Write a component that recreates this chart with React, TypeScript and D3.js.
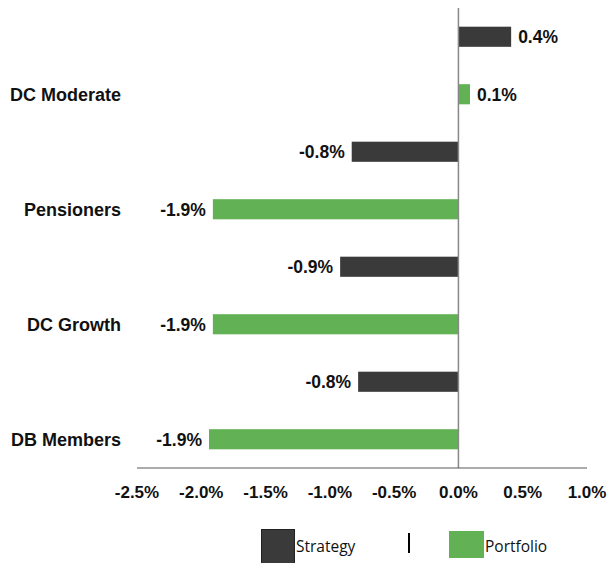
import React from 'react'
import * as d3 from 'd3'

// values (percent)
const categories = ['DC Moderate', 'Pensioners', 'DC Growth', 'DB Members']
const strategyValues = [0.41, -0.83, -0.92, -0.78]
const portfolioValues = [0.09, -1.91, -1.91, -1.94]
const tickValues = [-2.5, -2.0, -1.5, -1.0, -0.5, 0.0, 0.5, 1.0]
const seriesNames = ['Strategy', 'Portfolio']
const seriesColors = ['#3a3a3a', '#62b255']

const width = 611
const height = 563
const marginLeft = 137
const marginRight = 24
const marginTop = 8
const plotBottom = 468

export default function App() {
    const x = d3.scaleLinear()
        .domain([-2.5, 1.0])
        .range([marginLeft, width - marginRight])

    // each category gets two rows: strategy above, portfolio below
    const rows = categories.flatMap(c => [c + '|s', c + '|p'])
    const y = d3.scaleBand()
        .domain(rows)
        .range([marginTop, plotBottom])
        .paddingInner(0.65)
        .paddingOuter(0.325)

    const bars = categories.flatMap((c, i) => [
        { key: c + '|s', value: strategyValues[i], color: seriesColors[0] },
        { key: c + '|p', value: portfolioValues[i], color: seriesColors[1] },
    ])

    // plain hyphen minus like the original, not the unicode one
    const fmt = (v: number) => d3.format('.1f')(v).replace('\u2212', '-') + '%'
    const font = "Arial, 'Liberation Sans', sans-serif"

    return (
        <svg width={width} height={height} style={{ position: 'absolute', left: 0, top: 0, background: '#fff' }}>
            {bars.map(b => {
                const x0 = x(Math.min(0, b.value))
                const x1 = x(Math.max(0, b.value))
                const yc = (y(b.key) as number) + y.bandwidth() / 2
                return (
                    <g key={b.key}>
                        <rect x={x0} y={y(b.key)} width={x1 - x0} height={y.bandwidth()} fill={b.color} />
                        <text
                            x={b.value >= 0 ? x1 + 7 : x0 - 7}
                            y={yc}
                            dy="0.36em"
                            textAnchor={b.value >= 0 ? 'start' : 'end'}
                            fontFamily={font}
                            fontWeight="bold"
                            fontSize={17.5}
                            fill="#111"
                        >
                            {fmt(b.value)}
                        </text>
                    </g>
                )
            })}

            {/* category labels, aligned with the portfolio row */}
            {categories.map(c => (
                <text
                    key={c}
                    x={121}
                    y={(y(c + '|p') as number) + y.bandwidth() / 2}
                    dy="0.36em"
                    textAnchor="end"
                    fontFamily={font}
                    fontWeight="bold"
                    fontSize={18}
                    fill="#111"
                >
                    {c}
                </text>
            ))}

            {/* zero line */}
            <line x1={x(0)} x2={x(0)} y1={marginTop} y2={plotBottom} stroke="#888" strokeWidth={1.5} />
            {/* x axis */}
            <line x1={marginLeft} x2={width - marginRight} y1={plotBottom} y2={plotBottom} stroke="#595959" strokeWidth={1.2} />
            {tickValues.map(t => (
                <text
                    key={t}
                    x={x(t)}
                    y={492}
                    dy="0.36em"
                    textAnchor="middle"
                    fontFamily={font}
                    fontWeight="bold"
                    fontSize={17}
                    fill="#111"
                >
                    {fmt(t)}
                </text>
            ))}

            {/* legend */}
            <rect x={261.5} y={529.5} width={33} height={36} fill={seriesColors[0]} stroke="#222" />
            <text x={296} y={546} dy="0.36em" fontFamily="'Open Sans', sans-serif" fontSize={15.5} fill="#111">{seriesNames[0]}</text>
            <line x1={409} x2={409} y1={533} y2={553} stroke="#000" strokeWidth={2} />
            <rect x={449} y={531} width={35} height={27} fill={seriesColors[1]} />
            <text x={485} y={546} dy="0.36em" fontFamily="'Open Sans', sans-serif" fontSize={15.5} fill="#111">{seriesNames[1]}</text>
        </svg>
    )
}
